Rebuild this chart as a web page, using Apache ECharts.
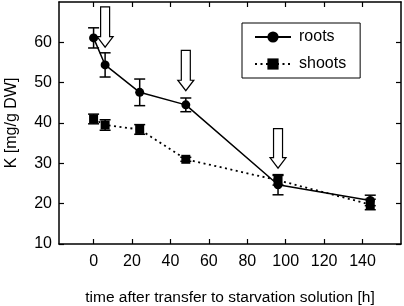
<!DOCTYPE html>
<html><head><meta charset="utf-8">
<script src="https://cdn.jsdelivr.net/npm/echarts@6/dist/echarts.min.js"></script>
<style>html,body{margin:0;padding:0;background:#fff}#c{width:404px;height:306px}</style>
</head><body><div id="c"></div>
<script>
const times = [0, 6, 24, 48, 96, 144];
const roots = [61.1, 54.4, 47.6, 44.5, 24.7, 20.8];
const rootsErr = [2.5, 3.0, 3.3, 1.7, 2.5, 1.3];
const shoots = [41.0, 39.5, 38.4, 31.0, 25.8, 19.8];
const shootsErr = [1.2, 1.3, 1.2, 0.5, 1.2, 1.3];
const arrowX = [6, 48, 96];
const arrowTail = [68.8, 58.0, 38.6];
const arrowTip = [58.8, 48.0, 28.8];
const xTicks = [0, 20, 40, 60, 80, 100, 120, 140];
const yTicks = [10, 20, 30, 40, 50, 60];

const FONT = 'Liberation Sans, Arial, sans-serif';
const chart = echarts.init(document.getElementById('c'), null, {renderer: 'canvas'});

function errData(vals, errs) {
  return times.map((t, i) => [t, vals[i] - errs[i], vals[i] + errs[i]]);
}
function errItem(params, api) {
  const x = api.value(0), lo = api.value(1), hi = api.value(2);
  const p1 = api.coord([x, hi]), p2 = api.coord([x, lo]);
  const w = 5.5;
  const st = {stroke: '#000', lineWidth: 1.5};
  return {type: 'group', children: [
    {type: 'line', shape: {x1: p1[0], y1: p1[1], x2: p2[0], y2: p2[1]}, style: st},
    {type: 'line', shape: {x1: p1[0] - w, y1: p1[1], x2: p1[0] + w, y2: p1[1]}, style: st},
    {type: 'line', shape: {x1: p2[0] - w, y1: p2[1], x2: p2[0] + w, y2: p2[1]}, style: st}
  ]};
}
function arrowItem(params, api) {
  const x = api.value(0);
  const a = api.coord([x, api.value(1)]);
  const b = api.coord([x, api.value(2)]);
  const cx = a[0], hs = 4.5, hh = 8, hl = 10.5;
  const y0 = a[1], y1 = b[1];
  return {type: 'polygon', shape: {points: [
    [cx - hs, y0], [cx + hs, y0], [cx + hs, y1 - hl], [cx + hh, y1 - hl],
    [cx, y1], [cx - hh, y1 - hl], [cx - hs, y1 - hl]
  ]}, style: {fill: '#fff', stroke: '#000', lineWidth: 1.2}};
}

const axisLineStyle = {color: '#000', width: 1.5};
const labelStyle = {color: '#000', fontSize: 16, fontFamily: FONT};

chart.setOption({
  animation: false,
  grid: {left: 59, right: 3, top: 2, bottom: 62, show: false, containLabel: false, outerBoundsMode: 'none'},
  legend: {
    orient: 'vertical', left: 242, top: 23,
    data: ['roots', 'shoots'],
    borderColor: '#000', borderWidth: 1, borderRadius: 0,
    padding: [6, 14, 6, 12],
    itemWidth: 36, itemHeight: 14, itemGap: 11,
    textStyle: {color: '#000', fontSize: 16, fontFamily: FONT, padding: [0, 0, 0, 3]}
  },
  xAxis: [{
    type: 'value', min: -18, max: 160, position: 'bottom',
    name: 'time after transfer to starvation solution [h]',
    nameLocation: 'middle', nameGap: 46,
    nameTextStyle: {color: '#000', fontSize: 15.5, fontFamily: FONT},
    axisLine: {show: true, onZero: false, lineStyle: axisLineStyle},
    axisTick: {show: true, inside: true, length: 5, customValues: xTicks, lineStyle: {color: '#000', width: 1.2}},
    axisLabel: Object.assign({show: true, margin: 10, customValues: xTicks}, labelStyle),
    splitLine: {show: false}
  }, {
    type: 'value', min: -18, max: 160, position: 'top',
    axisLine: {show: true, onZero: false, lineStyle: axisLineStyle},
    axisTick: {show: true, inside: true, length: 5, customValues: xTicks, lineStyle: {color: '#000', width: 1.2}},
    axisLabel: {show: false},
    splitLine: {show: false}
  }],
  yAxis: [{
    type: 'value', min: 10, max: 70, position: 'left',
    name: 'K [mg/g DW]', nameLocation: 'middle', nameGap: 39,
    nameTextStyle: {color: '#000', fontSize: 16, fontFamily: FONT},
    axisLine: {show: true, onZero: false, lineStyle: axisLineStyle},
    axisTick: {show: true, inside: true, length: 5, customValues: yTicks, lineStyle: {color: '#000', width: 1.2}},
    axisLabel: Object.assign({show: true, margin: 7, customValues: yTicks}, labelStyle),
    splitLine: {show: false}
  }, {
    type: 'value', min: 10, max: 70, position: 'right',
    axisLine: {show: true, onZero: false, lineStyle: axisLineStyle},
    axisTick: {show: true, inside: true, length: 5, customValues: yTicks, lineStyle: {color: '#000', width: 1.2}},
    axisLabel: {show: false},
    splitLine: {show: false}
  }],
  series: [
    {type: 'custom', name: 'arrows', renderItem: arrowItem, z: 1,
     data: arrowX.map((x, i) => [x, arrowTail[i], arrowTip[i]])},
    {type: 'custom', name: 'rootsErr', renderItem: errItem, z: 3, data: errData(roots, rootsErr)},
    {type: 'custom', name: 'shootsErr', renderItem: errItem, z: 3, data: errData(shoots, shootsErr)},
    {type: 'line', name: 'shoots', z: 4, data: times.map((t, i) => [t, shoots[i]]),
     symbol: 'rect', symbolSize: 9, showSymbol: true,
     itemStyle: {color: '#000'},
     lineStyle: {color: '#000', width: 1.8, type: [2, 3.5]}},
    {type: 'line', name: 'roots', z: 5, data: times.map((t, i) => [t, roots[i]]),
     symbol: 'circle', symbolSize: 9, showSymbol: true,
     itemStyle: {color: '#000'},
     lineStyle: {color: '#000', width: 1.5}}
  ]
});
</script></body></html>
